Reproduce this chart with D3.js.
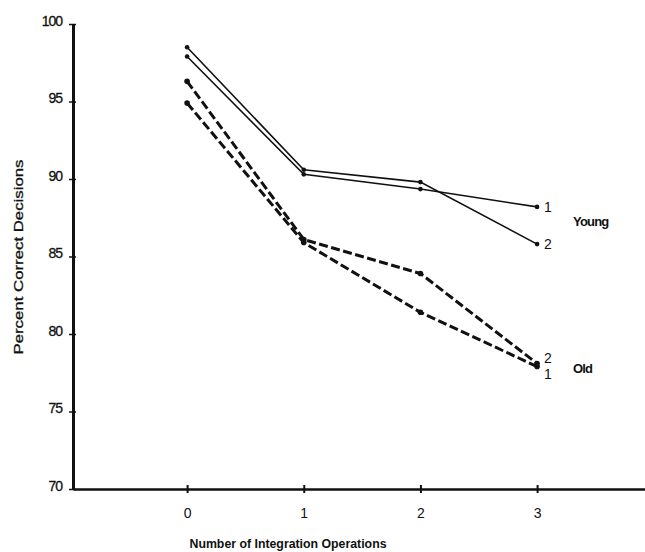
<!DOCTYPE html>
<html>
<head>
<meta charset="utf-8">
<script src="https://cdn.jsdelivr.net/npm/d3@7"></script>
<style>
body{margin:0;background:#fff;}
text{font-family:"Liberation Sans",Arial,sans-serif;fill:#111;}
</style>
</head>
<body>
<script>
// data
let ops = [0, 1, 2, 3];
let young1 = [97.9, 90.3, 89.35, 88.2];
let young2 = [98.5, 90.6, 89.8, 85.8];
let old1 = [94.9, 85.9, 81.4, 77.9];
let old2 = [96.3, 86.1, 83.9, 78.1];
let yTicks = [70, 75, 80, 85, 90, 95, 100];

let series = [
	{name:"1", group:"young", vals:young1},
	{name:"2", group:"young", vals:young2},
	{name:"1", group:"old", vals:old1},
	{name:"2", group:"old", vals:old2}
];

let svg = d3.select("body").append("svg")
	.attr("width", 645).attr("height", 552);

x = d3.scaleLinear().domain([-0.978, 3.925]).range([73, 645]);
y = d3.scaleLinear().domain([70, 100]).range([489, 24]);

// x axis
let gx = svg.append("g").attr("transform", "translate(0,489)")
	.call(d3.axisBottom(x).tickValues(ops).tickFormat(d3.format("d"))
		.tickSizeOuter(0).tickSize(0).tickPadding(21));
gx.select(".domain").attr("stroke","#111").attr("stroke-width",2.5);
gx.selectAll(".tick line").attr("y1",-4).attr("y2",4).attr("stroke","#111").attr("stroke-width",2);
gx.selectAll(".tick text").attr("font-size","14px").attr("dy","0.55em").attr("fill","#111");

// y axis
let gy = svg.append("g").attr("transform", "translate(73,0)")
	.call(d3.axisLeft(y).tickValues(yTicks).tickSizeOuter(0).tickSize(0).tickPadding(11));
gy.select(".domain").attr("stroke","#111").attr("stroke-width",3);
gy.selectAll(".tick line").attr("x1",-4).attr("x2",3).attr("stroke","#111").attr("stroke-width",1.5);
gy.selectAll(".tick text").attr("font-size","14px").attr("dy","0.1em")
	.attr("letter-spacing","-1px").attr("fill","#111").attr("stroke","#111").attr("stroke-width",0.3);

// lines
let line = d3.line().x((d,i) => x(ops[i])).y(d => y(d));
series.forEach(function(s){
	svg.append("path").datum(s.vals)
		.attr("d", line)
		.attr("fill","none")
		.attr("stroke","#111")
		.attr("stroke-width", s.group=="young" ? 1.6 : 3)
		.attr("stroke-dasharray", s.group=="young" ? null : "9,3.5");
	svg.selectAll(null).data(s.vals).enter().append("circle")
		.attr("cx",(d,i) => x(ops[i])).attr("cy", d => y(d))
		.attr("r", s.group=="young" ? 2.3 : 2.8).attr("fill","#111");
});

// end labels
let endX = x(3) + 7;
svg.append("text").attr("x",endX).attr("y",y(young1[3])+5).attr("font-size","14px").text("1");
svg.append("text").attr("x",endX).attr("y",y(young2[3])+5).attr("font-size","14px").text("2");
svg.append("text").attr("x",endX).attr("y",y(old2[3])).attr("font-size","14px").text("2");
svg.append("text").attr("x",endX).attr("y",y(old1[3])+12).attr("font-size","14px").text("1");
svg.append("text").attr("x",573).attr("y",y(young1[3])+19).attr("font-size","13px")
	.attr("font-weight","bold").attr("letter-spacing","-0.8px").text("Young");
svg.append("text").attr("x",573).attr("y",y(old1[3])+6).attr("font-size","13px")
	.attr("font-weight","bold").attr("letter-spacing","-0.8px").text("Old");

// axis titles
svg.append("text").attr("x",288).attr("y",548).attr("text-anchor","middle")
	.attr("font-size","12.5px").attr("font-weight","bold")
	.attr("textLength",197).attr("lengthAdjust","spacingAndGlyphs")
	.text("Number of Integration Operations");
svg.append("text").attr("transform","translate(23,257) rotate(-90)")
	.attr("text-anchor","middle").attr("font-size","13px")
	.attr("stroke","#111").attr("stroke-width",0.3)
	.attr("textLength",195).attr("lengthAdjust","spacingAndGlyphs")
	.text("Percent Correct Decisions");
</script>
</body>
</html>
